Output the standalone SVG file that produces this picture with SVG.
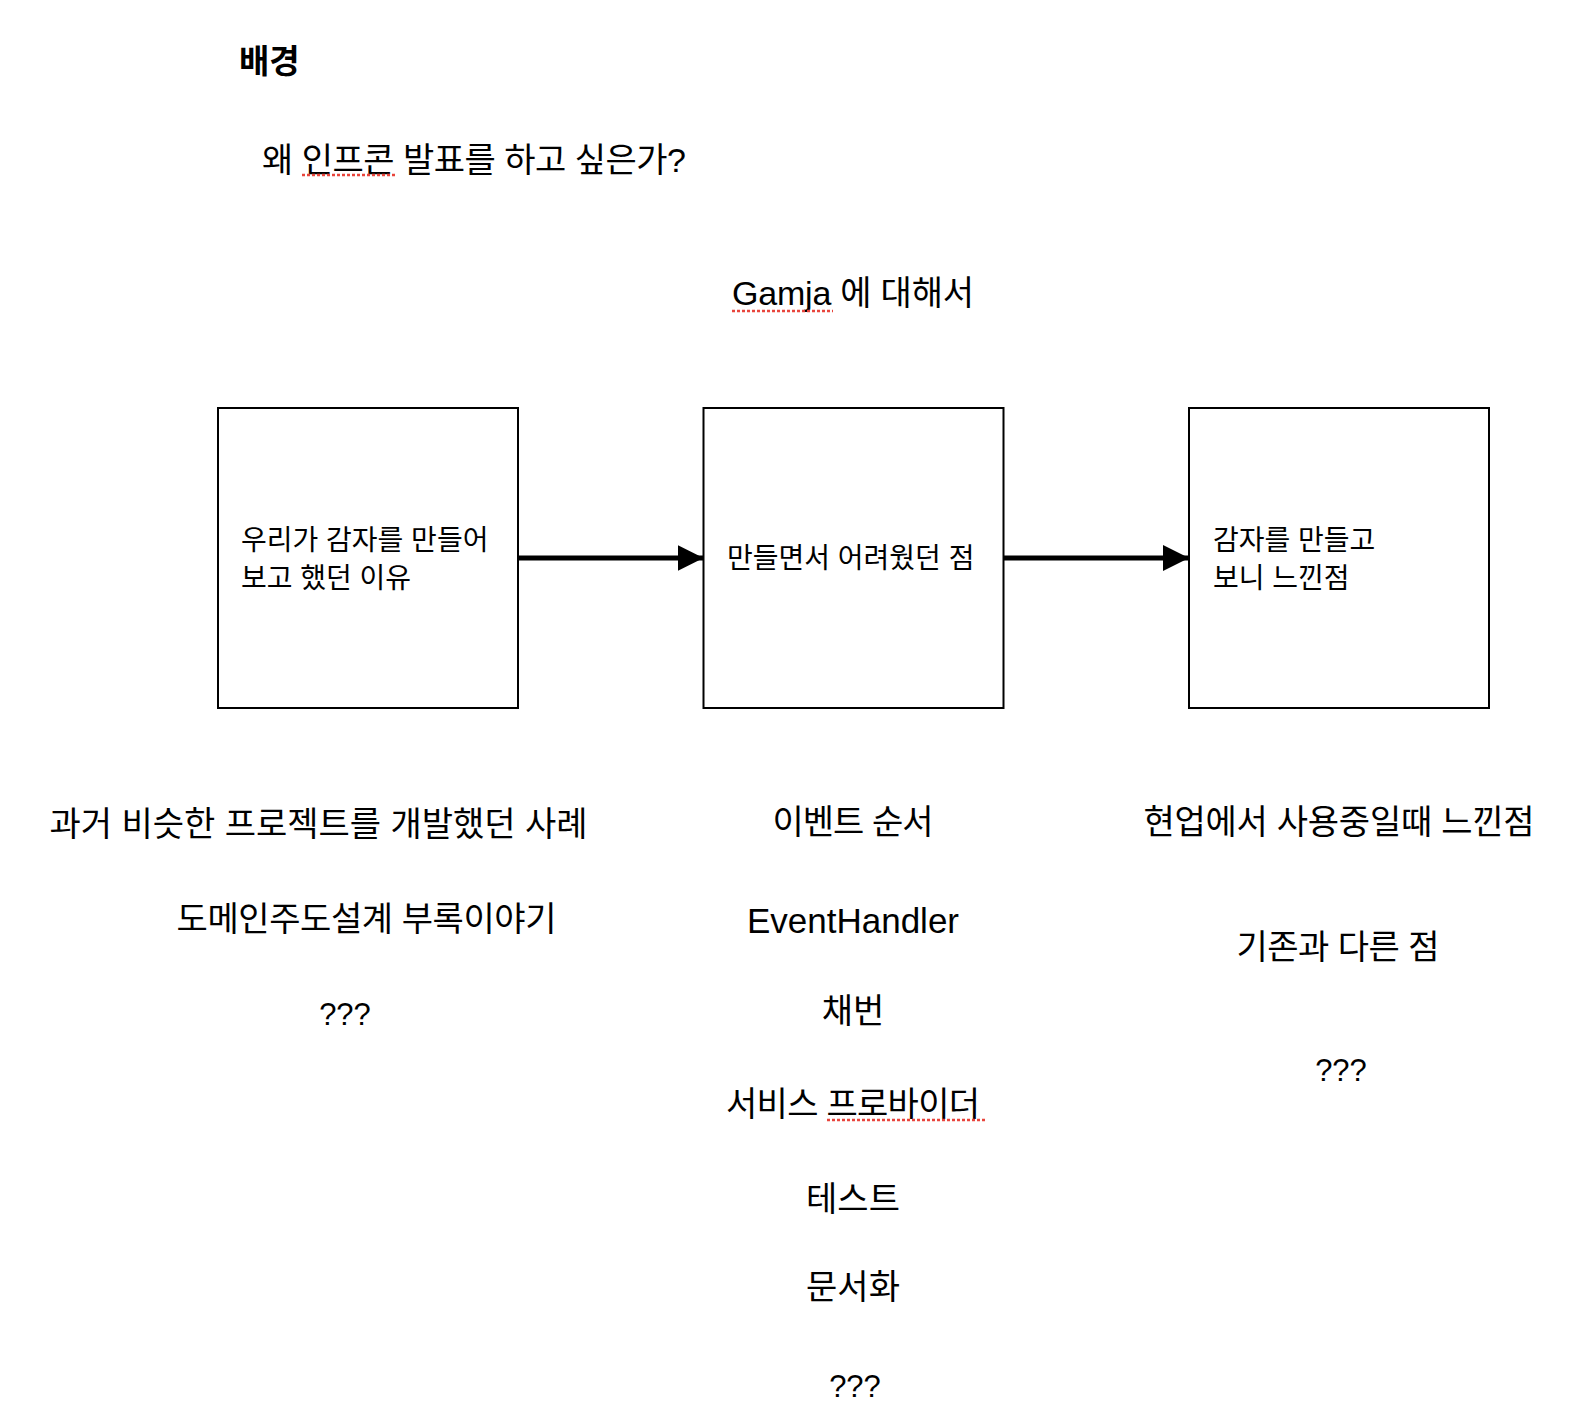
<svg xmlns="http://www.w3.org/2000/svg" width="1594" height="1420" viewBox="0 0 1594 1420">
<defs>
<style>
text{font-family:"Liberation Sans","Noto Sans CJK KR",sans-serif;fill:#000}
.t{font-size:34px}
.q{font-size:31px}
.b{font-size:28px}
.c{text-anchor:middle}
.box{fill:#fff;stroke:#000;stroke-width:2}
.edge{stroke:#000;stroke-width:5;fill:none}
.spell{stroke:#e8453c;stroke-width:2.5;stroke-dasharray:3 2;fill:none}
</style>
<marker id="arr" markerUnits="userSpaceOnUse" markerWidth="26" markerHeight="26" refX="26" refY="13" orient="auto">
<path d="M0,0 L26,13 L0,26 Z" fill="#000"/>
</marker>
</defs>
<rect width="1594" height="1420" fill="#fff"/>
<g id="title">
<text x="239" y="73" style="font-size:33px;font-weight:bold">배경</text>
<text x="262" y="172" class="t" textLength="424">왜 인프콘 발표를 하고 싶은가?</text>
<line class="spell" x1="302" y1="175" x2="395" y2="175"/>
<text x="853" y="305" class="t c" textLength="242">Gamja 에 대해서</text>
<line class="spell" x1="732" y1="311" x2="833" y2="311"/>
</g>
<g id="connectors">
<line class="edge" x1="518.5" y1="558" x2="703.5" y2="558" marker-end="url(#arr)"/>
<line class="edge" x1="1003.5" y1="558" x2="1189" y2="558" marker-end="url(#arr)"/>
</g>
<g id="node1">
<rect class="box" x="218" y="408" width="300" height="300"/>
<text x="241" y="550" class="b">우리가 감자를 만들어</text>
<text x="241" y="588" class="b">보고 했던 이유</text>
</g>
<g id="node2">
<rect class="box" x="703.5" y="408" width="300" height="300"/>
<text x="727" y="568" class="b">만들면서 어려웠던 점</text>
</g>
<g id="node3">
<rect class="box" x="1189" y="408" width="300" height="300"/>
<text x="1213" y="550" class="b">감자를 만들고</text>
<text x="1213" y="588" class="b">보니 느낀점</text>
</g>
<g id="left-list">
<text x="318.5" y="836" class="t c" textLength="538">과거 비슷한 프로젝트를 개발했던 사례</text>
<text x="366.5" y="931" class="t c" textLength="380">도메인주도설계 부록이야기</text>
<text x="345" y="1025" class="q c">???</text>
</g>
<g id="middle-list">
<text x="853" y="834" class="t c" textLength="161">이벤트 순서</text>
<text x="853" y="933" class="c" style="font-size:35px">EventHandler</text>
<text x="853" y="1023" class="t c">채번</text>
<text x="853" y="1116" class="t c" textLength="254">서비스 프로바이더</text>
<line class="spell" x1="827" y1="1120" x2="985" y2="1120"/>
<text x="853" y="1211" class="t c">테스트</text>
<text x="853" y="1299" class="t c">문서화</text>
<text x="855" y="1397" class="q c">???</text>
</g>
<g id="right-list">
<text x="1339" y="834" class="t c" textLength="391">현업에서 사용중일때 느낀점</text>
<text x="1338" y="959" class="t c" textLength="203">기존과 다른 점</text>
<text x="1341" y="1081" class="q c">???</text>
</g>
</svg>
